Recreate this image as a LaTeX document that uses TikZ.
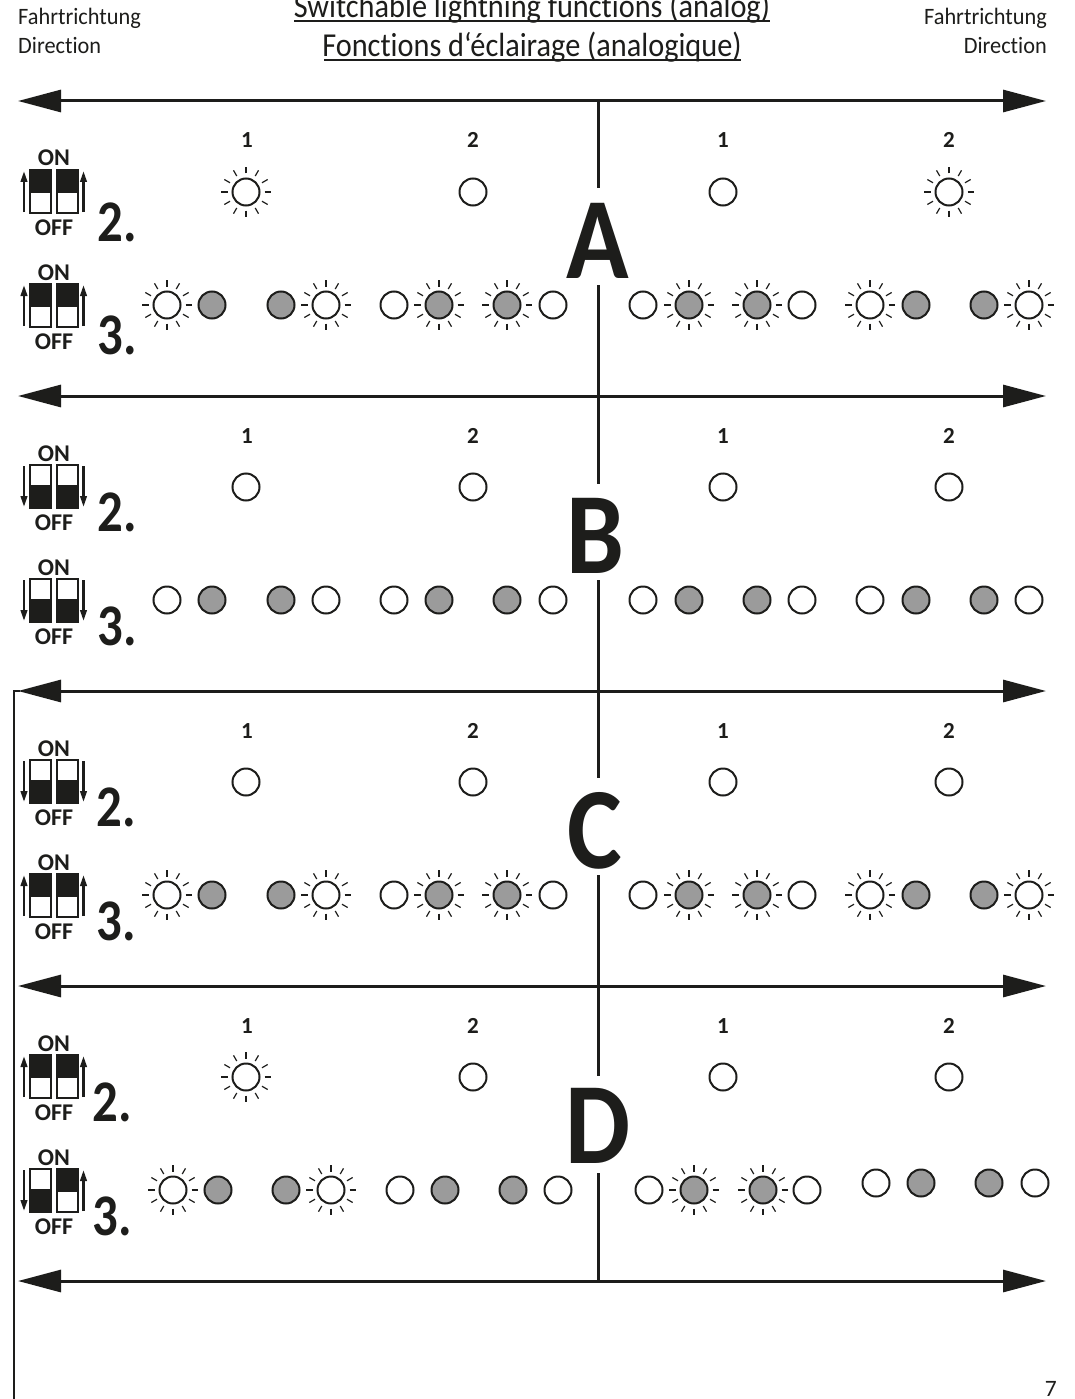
\documentclass[tikz,border=0pt]{standalone}
\usepackage{fontspec}
\setmainfont{Carlito}[Ligatures=NoCommon]
\usetikzlibrary{arrows.meta,calc}
\definecolor{ink}{HTML}{1D1D1B}
\definecolor{lampgrey}{HTML}{9B9B9B}
\tikzset{
  x=1pt,y=-1pt,
  axis/.style={draw=ink,line width=3pt,{Triangle[length=43pt,width=22pt]}-{Triangle[length=43pt,width=22pt]}},
  divider/.style={draw=ink,line width=3pt},
  bracket/.style={draw=ink,line width=2.6pt},
  lampw/.style={circle,draw=ink,line width=2pt,fill=white,minimum size=27pt,inner sep=0pt},
  lampg/.style={circle,draw=ink,line width=2pt,fill=lampgrey,minimum size=27pt,inner sep=0pt},
  ray/.style={draw=ink,line width=1.2pt},
  dipbox/.style={draw=ink,line width=1.5pt,fill=white},
  dipdark/.style={draw=ink,line width=1.5pt,fill=ink},
  diparrow/.style={draw=ink,line width=2.4pt,-{Triangle[length=11pt,width=6.5pt]}},
  txt/.style={inner sep=0pt,text=ink},
  cols/.style={txt,font=\bfseries\fontsize{23}{23}\selectfont,anchor=base},
  onoff/.style={txt,font=\bfseries\fontsize{24}{24}\selectfont,anchor=base},
  num/.style={txt,font=\bfseries\fontsize{59}{59}\selectfont,anchor=base},
  big/.style={txt,font=\bfseries\fontsize{116}{116}\selectfont,anchor=base},
  hdr/.style={txt,font=\fontsize{23.5}{23.5}\selectfont,anchor=base},
  title/.style={txt,font=\fontsize{33.5}{33.5}\selectfont,anchor=base},
}
\newcommand{\sxn}[1]{\scalebox{.86}[1]{#1}}
\newcommand{\sxb}[1]{\scalebox{.89}[1]{#1}}
\newcommand{\sxh}[1]{\scalebox{.95}[1]{#1}}
\newcommand{\sxt}[1]{\scalebox{.905}[1]{#1}}
\newcommand{\lampat}[5]{%
  \ifnum#5=1
    \foreach \a in {0,30,...,330}{\draw[ray] ($(#2,#3)$) ++(\a:18.5) -- ++(\a:6.5);}%
  \fi
  \node[lamp#4] (#1) at (#2,#3) {};}
\newcommand{\onedip}[4]{%
  \def\st{#4}\def\up{u}%
  \draw[dipbox] (#1,#3) rectangle ++(21,43);
  \ifx\st\up
    \draw[dipdark] (#1,#3) rectangle ++(21,22);
    \draw[diparrow] (#2,#3+42) -- (#2,#3+1);
  \else
    \draw[dipdark] (#1,#3+21) rectangle ++(21,22);
    \draw[diparrow] (#2,#3+1) -- (#2,#3+42);
  \fi}
\newcommand{\dip}[3]{%
  \node[onoff] at (54,#1-4) {ON};
  \onedip{30}{24}{#1}{#2}
  \onedip{57}{83.5}{#1}{#3}
  \node[onoff] at (54,#1+65) {OFF};}
\newcommand{\rowone}[4]{%
  \foreach \n/\cx/\l in {a/246/#1,b/473/#2,c/723/#3,d/949/#4}{\lampat{r1\n}{\cx}{192}{w}{\l}}%
  \foreach \n/\cx/\t in {a/247/1,b/473/2,c/723/1,d/949/2}{\node[cols] (lab\n) at (\cx,148) {\t};}}
\newcommand{\rowlit}{%
  \foreach \n/\cx/\t/\l in {a/167/w/1,b/212/g/0,c/281/g/0,d/326/w/1,e/394/w/0,f/439/g/1,g/507/g/1,h/553/w/0,i/643/w/0,j/689/g/1,k/757/g/1,l/802/w/0,m/870/w/1,n/916/g/0,o/984/g/0,p/1029/w/1}{\lampat{r2\n}{\cx}{305}{\t}{\l}}}
\newcommand{\rowdark}{%
  \foreach \n/\cx/\t in {a/167/w,b/212/g,c/281/g,d/326/w,e/394/w,f/439/g,g/507/g,h/553/w,i/643/w,j/689/g,k/757/g,l/802/w,m/870/w,n/916/g,o/984/g,p/1029/w}{\lampat{r2\n}{\cx}{305}{\t}{0}}}
\newcommand{\bandaxis}[2]{%
  \coordinate (al) at (18,101); \coordinate (ar) at (1046,101);
  \coordinate (v0) at (598,101); \coordinate (v1) at (598,#1);
  \coordinate (v2) at (598,#2); \coordinate (v3) at (598,396);
  \draw[axis] (al) -- (ar);
  \draw[divider] (v0) -- (v1);
  \draw[divider] (v2) -- (v3);}
\begin{document}
\begin{tikzpicture}
\useasboundingbox (0,0) rectangle (1074,1399);
\fill[white] (0,0) rectangle (1074,1399);

% header
\node[hdr,anchor=base west] (hl1) at (18,25) {\sxh{Fahrtrichtung}};
\node[hdr,anchor=base west] (hl2) at (18,54) {\sxh{Direction}};
\node[hdr,anchor=base east] (hr1) at (1047,25) {\sxh{Fahrtrichtung}};
\node[hdr,anchor=base east] (hr2) at (1047,54) {\sxh{Direction}};
\node[title] (t1) at (532,18) {\sxt{Switchable lightning functions (analog)}};
\node[title] (t2) at (532,57) {\sxt{Fonctions d‘éclairage (analogique)}};
\draw[ink,line width=1.6pt] (294,21) -- (770,21);
\draw[ink,line width=1.6pt] (324,60) -- (741,60);

% band A
\begin{scope}[name prefix=A-]
  \bandaxis{188}{285}
  \rowone{1}{0}{0}{1}
  \rowlit
  \dip{170}{u}{u}
  \dip{284}{u}{u}
  \node[num] at (117,241) {\sxn{2.}};
  \node[num] at (117,354) {\sxn{3.}};
  \node[big] (L) at (598,278) {\sxb{A}};
\end{scope}
% band B
\begin{scope}[yshift=-295pt,name prefix=B-]
  \bandaxis{189}{285}
  \rowone{0}{0}{0}{0}
  \rowdark
  \dip{170}{d}{d}
  \dip{284}{d}{d}
  \node[num] at (117,236) {\sxn{2.}};
  \node[num] at (117,350) {\sxn{3.}};
  \node[big] (L) at (595,278) {\sxb{B}};
\end{scope}
% band C
\begin{scope}[yshift=-590pt,name prefix=C-]
  \bandaxis{188}{285}
  \rowone{0}{0}{0}{0}
  \rowlit
  \dip{170}{d}{d}
  \dip{284}{u}{u}
  \node[num] at (116,236) {\sxn{2.}};
  \node[num] at (116,350) {\sxn{3.}};
  \node[big] (L) at (595,278) {\sxb{C}};
\end{scope}
% band D
\begin{scope}[yshift=-885pt,name prefix=D-]
  \bandaxis{191}{288}
  \rowone{1}{0}{0}{0}
  \foreach \n/\cx/\cy/\t/\l in {a/173/305/w/1,b/218/305/g/0,c/286/305/g/0,d/331/305/w/1,e/400/305/w/0,f/445/305/g/0,g/513/305/g/0,h/558/305/w/0,i/649/305/w/0,j/694/305/g/1,k/763/305/g/1,l/807/305/w/0,m/876/298/w/0,n/921/298/g/0,o/989/298/g/0,p/1035/298/w/0}{\lampat{r2\n}{\cx}{\cy}{\t}{\l}}
  \dip{170}{u}{u}
  \dip{284}{d}{u}
  \node[num] at (112,236) {\sxn{2.}};
  \node[num] at (112,350) {\sxn{3.}};
  \node[big] (L) at (598,278) {\sxb{D}};
\end{scope}

% closing axis
\coordinate (endl) at (18,1281);
\coordinate (endr) at (1046,1281);
\draw[axis] (endl) -- (endr);

% bracket on the left
\coordinate (bk0) at (20,691);
\coordinate (bk1) at (14,691);
\coordinate (bk2) at (14,1399);
\draw[bracket] (bk0) -- (bk1) -- (bk2);

\node[hdr,anchor=base east] (pg) at (1057,1396) {7};
\end{tikzpicture}
\end{document}
